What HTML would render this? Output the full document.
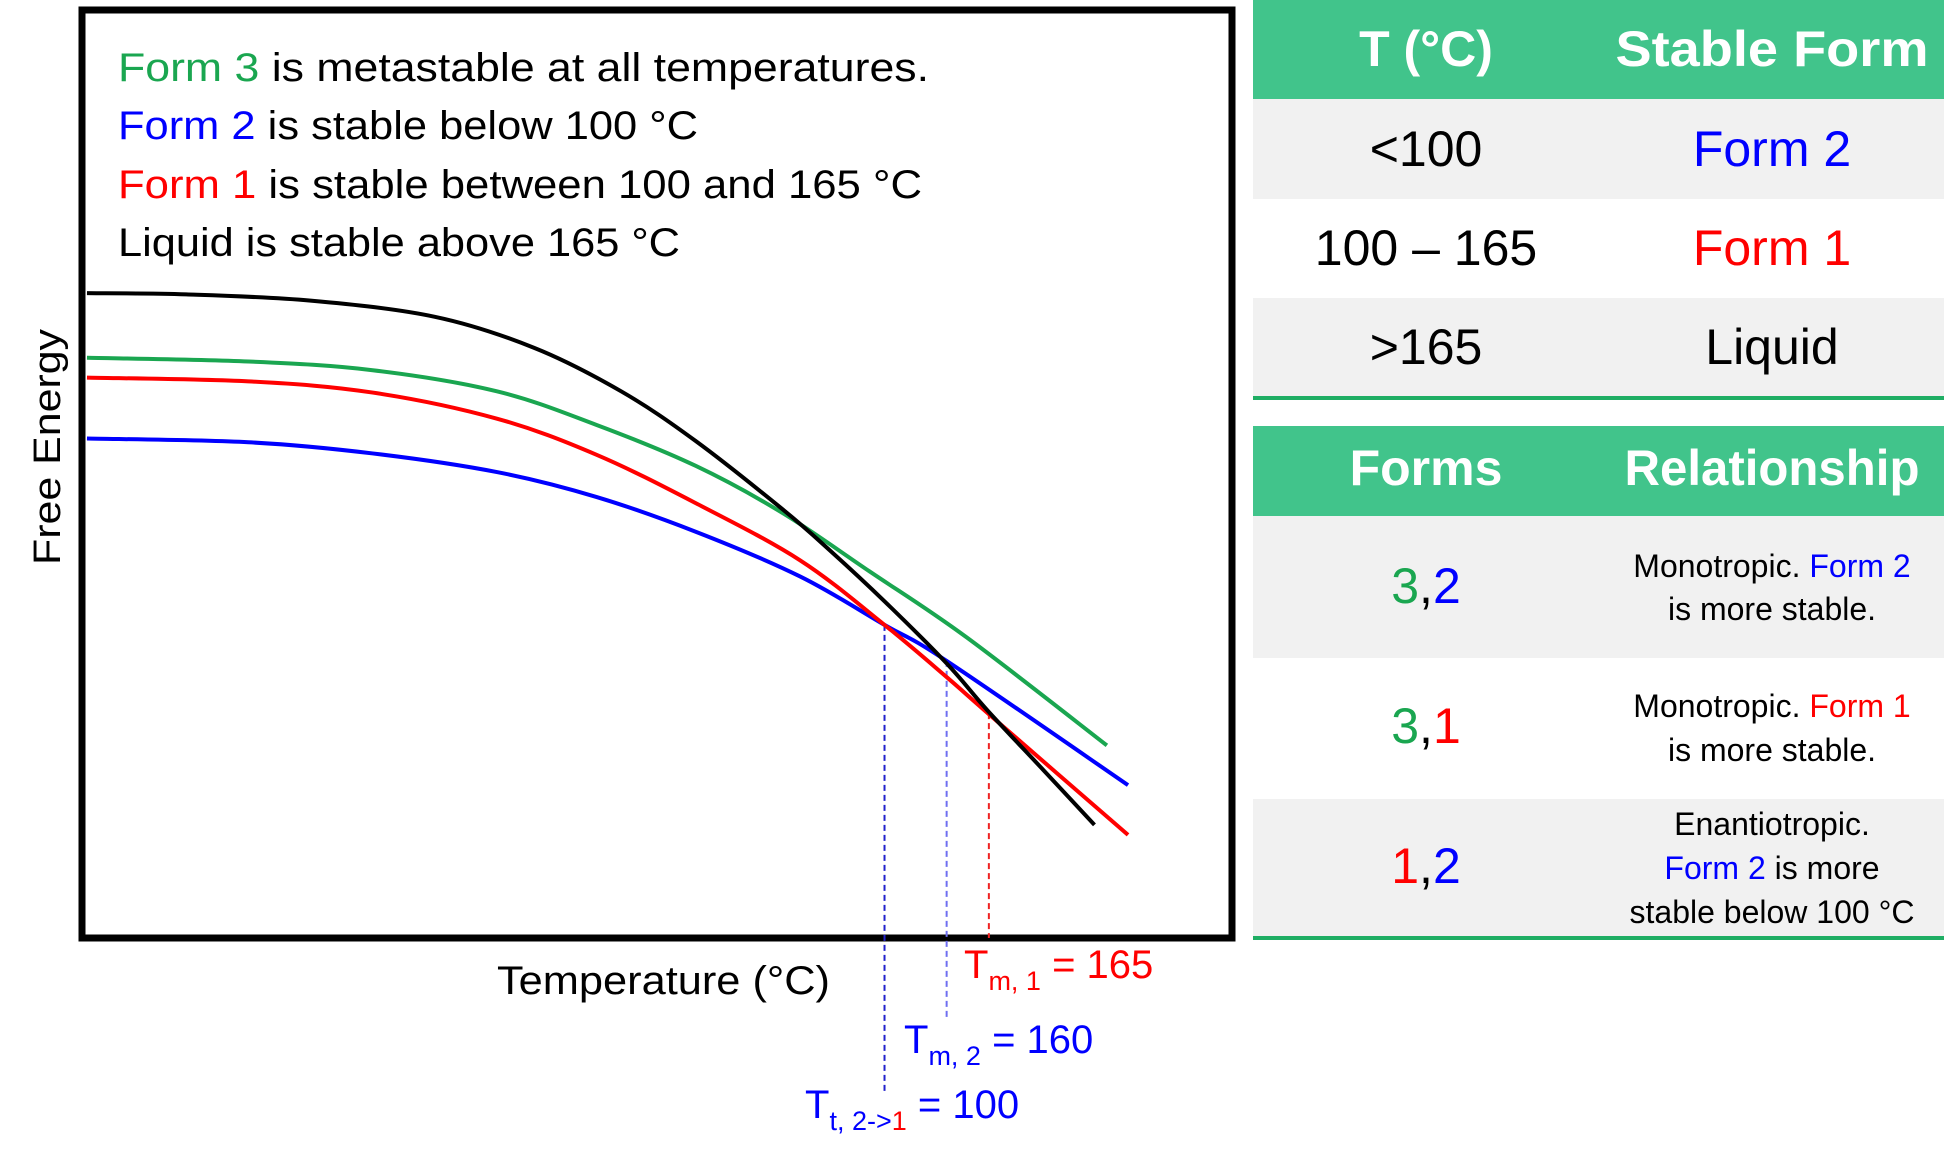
<!DOCTYPE html>
<html><head><meta charset="utf-8"><style>
html,body{margin:0;padding:0;background:#fff;}
svg{display:block;font-family:"Liberation Sans",sans-serif;}
</style></head><body>
<svg width="1948" height="1163" viewBox="0 0 1948 1163">
<g id="chart">
  <rect x="82" y="10" width="1150" height="928" fill="#fff" stroke="#000" stroke-width="7"/>
  <text font-size="40" x="118" y="81" textLength="811" lengthAdjust="spacingAndGlyphs"><tspan fill="#1aa650">Form 3</tspan> is metastable at all temperatures.</text>
  <text font-size="40" x="118" y="139" textLength="580" lengthAdjust="spacingAndGlyphs"><tspan fill="#0000ff">Form 2</tspan> is stable below 100 °C</text>
  <text font-size="40" x="118" y="198" textLength="804" lengthAdjust="spacingAndGlyphs"><tspan fill="#ff0000">Form 1</tspan> is stable between 100 and 165 °C</text>
  <text font-size="40" x="118" y="256" textLength="562" lengthAdjust="spacingAndGlyphs">Liquid is stable above 165 °C</text>
  <text font-size="38" transform="translate(60,447) rotate(-90)" text-anchor="middle" textLength="236" lengthAdjust="spacingAndGlyphs">Free Energy</text>
  <text font-size="40" x="497" y="994" textLength="333" lengthAdjust="spacingAndGlyphs">Temperature (°C)</text>
  <g id="curves"></g>
  <text font-size="40" fill="#ff0000" x="964" y="978">T<tspan font-size="27" dy="12">m, 1</tspan><tspan dy="-12"> = 165</tspan></text>
  <text font-size="40" fill="#0000ff" x="904" y="1053">T<tspan font-size="27" dy="12">m, 2</tspan><tspan dy="-12"> = 160</tspan></text>
  <text font-size="40" fill="#0000ff" x="805" y="1118">T<tspan font-size="27" dy="12">t, 2-&gt;</tspan><tspan font-size="27" fill="#ff0000">1</tspan><tspan dy="-12"> = 100</tspan></text>
</g>
<g id="table">
  <rect x="1253" y="0" width="691" height="99" fill="#41c48b"/>
  <rect x="1253" y="99" width="691" height="100" fill="#f1f1f1"/>
  <rect x="1253" y="298" width="691" height="99" fill="#f1f1f1"/>
  <rect x="1253" y="396" width="691" height="4" fill="#1fae64"/>
  <rect x="1253" y="426" width="691" height="90" fill="#41c48b"/>
  <rect x="1253" y="516" width="691" height="142" fill="#f1f1f1"/>
  <rect x="1253" y="799" width="691" height="139" fill="#f1f1f1"/>
  <rect x="1253" y="936" width="691" height="4" fill="#1fae64"/>
  <g font-size="50" text-anchor="middle">
    <text x="1426" y="66" fill="#fff" font-weight="bold">T (°C)</text>
    <text x="1772" y="66" fill="#fff" font-weight="bold" textLength="313" lengthAdjust="spacingAndGlyphs">Stable Form</text>
    <text x="1426" y="166">&lt;100</text>
    <text x="1772" y="166" fill="#0000ff">Form 2</text>
    <text x="1426" y="265">100 – 165</text>
    <text x="1772" y="265" fill="#ff0000">Form 1</text>
    <text x="1426" y="364">&gt;165</text>
    <text x="1772" y="364">Liquid</text>
    <text x="1426" y="485" fill="#fff" font-weight="bold">Forms</text>
    <text x="1772" y="485" fill="#fff" font-weight="bold" textLength="295" lengthAdjust="spacingAndGlyphs">Relationship</text>
    <text x="1426" y="603"><tspan fill="#1aa650">3</tspan>,<tspan fill="#0000ff">2</tspan></text>
    <text x="1426" y="743"><tspan fill="#1aa650">3</tspan>,<tspan fill="#ff0000">1</tspan></text>
    <text x="1426" y="883"><tspan fill="#ff0000">1</tspan>,<tspan fill="#0000ff">2</tspan></text>
  </g>
  <g font-size="32" text-anchor="middle">
    <text x="1772" y="577">Monotropic. <tspan fill="#0000ff">Form 2</tspan></text>
    <text x="1772" y="620">is more stable.</text>
    <text x="1772" y="717">Monotropic. <tspan fill="#ff0000">Form 1</tspan></text>
    <text x="1772" y="761">is more stable.</text>
    <text x="1772" y="835">Enantiotropic.</text>
    <text x="1772" y="879"><tspan fill="#0000ff">Form 2</tspan> is more</text>
    <text x="1772" y="923">stable below 100 °C</text>
  </g>
</g>
</svg>
<script>
const blackT=[70,150,250,350,430,500,560,630,668,712,762,795,840,881];
const blackG=[519,518,513,500,475,440,400,345,312,271,221,183,135,91];
const greenT=[70,200,300,400,480,560,630,700,778,891];
const greenG=[467,464,457,440,413,380,342,295,242,155];
const redT=[70,200,300,400,480,560,644,712,762,795,908];
const redG=[451,448,439,418,389,350,304,252,210,181,83];
const blueT=[70,200,300,400,480,560,644,712,762,908];
const blueG=[402,399,390,375,355,327,291,252,223,123];
const markerT=[712,762,796];
const markerG=[252,223,181];
const markerColors=['#2222cc','#6f6ff0','#ee2222'];
const markerBottoms=[1093,1019,938];
function xScale(t){return t*1.2423;}
function yScale(g){return (755-g)*1.2423;}
const NS='http://www.w3.org/2000/svg';
const g=document.getElementById('curves');
function pathFrom(T,G){
  const p=T.map((t,i)=>[xScale(t),yScale(G[i])]);
  let d='M'+p[0][0]+','+p[0][1];
  for(let i=0;i<p.length-1;i++){
    const p0=p[Math.max(0,i-1)],p1=p[i],p2=p[i+1],p3=p[Math.min(p.length-1,i+2)];
    const c1=[p1[0]+(p2[0]-p0[0])/6,p1[1]+(p2[1]-p0[1])/6];
    const c2=[p2[0]-(p3[0]-p1[0])/6,p2[1]-(p3[1]-p1[1])/6];
    d+=' C'+c1+' '+c2+' '+p2;
  }
  return d;
}
markerT.forEach((t,i)=>{
  const l=document.createElementNS(NS,'line');
  l.setAttribute('x1',xScale(t));l.setAttribute('x2',xScale(t));
  l.setAttribute('y1',yScale(markerG[i]));l.setAttribute('y2',markerBottoms[i]);
  l.setAttribute('stroke',markerColors[i]);l.setAttribute('stroke-width','2');
  l.setAttribute('stroke-dasharray','6,4');
  
  
  g.appendChild(l);
});
const series=[[greenT,greenG,'#1aa650','form3-curve'],[blueT,blueG,'#0000ff','form2-curve'],[redT,redG,'#ff0000','form1-curve'],[blackT,blackG,'#000000','liquid-curve']];
series.forEach(s=>{
  const p=document.createElementNS(NS,'path');
  p.setAttribute('d',pathFrom(s[0],s[1]));
  p.setAttribute('fill','none');p.setAttribute('stroke',s[2]);p.setAttribute('stroke-width','4');
  
  
  g.appendChild(p);
});
</script>
</body></html>
